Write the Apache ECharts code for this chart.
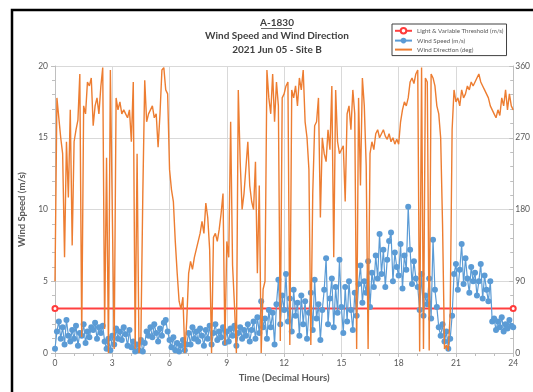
<!DOCTYPE html>
<html><head><meta charset="utf-8">
<script src="https://cdn.jsdelivr.net/npm/echarts@6/dist/echarts.min.js"></script>
<style>html,body{margin:0;padding:0;background:#fff}#c{width:533px;height:392px}</style>
</head><body><div id="c"></div>
<script>
const titleLines = ["A-1830", "Wind Speed and Wind Direction", "2021 Jun 05 - Site B"];
const seriesNames = ["Light & Variable Threshold (m/s)", "Wind Speed (m/s)", "Wind Direction (deg)"];
const xAxisName = "Time (Decimal Hours)";
const yAxisName = "Wind Speed (m/s)";
const timeStepHours = 0.1;
const thresholdTimes = [0, 24];
const thresholdValue = 3.1;
const windSpeed = [
  0.3,1.5,2.2,1.0,1.8,0.6,2.3,1.2,0.8,1.6,
  1.0,1.9,0.5,1.4,1.2,2.0,0.7,1.5,1.1,1.8,
  1.6,2.1,1.0,1.8,1.4,1.9,0.8,0.3,1.0,0.2,
  1.2,0.6,1.7,1.0,1.5,0.9,1.8,1.3,0.5,1.6,
  0.4,0.8,0.1,0.6,0.2,0.9,0.1,0.7,1.5,1.2,
  1.8,1.1,2.0,1.4,0.8,1.7,1.2,2.1,2.3,1.5,
  0.9,0.4,1.1,0.2,0.7,0.1,0.5,0.9,0.2,0.6,
  1.4,0.6,1.8,1.0,1.5,0.8,1.7,1.2,0.5,1.6,
  1.0,1.9,0.6,1.4,2.0,0.9,1.5,1.1,1.8,0.7,
  1.5,0.8,1.7,1.2,1.9,0.5,1.4,1.8,1.0,1.6,
  1.2,2.0,0.8,1.6,2.2,1.0,2.5,1.4,3.6,1.8,
  2.4,1.0,3.0,1.8,2.8,0.6,3.4,5.1,2.0,4.0,
  3.0,5.5,2.2,3.8,1.5,4.4,2.6,3.5,1.2,4.0,
  2.0,3.6,1.0,2.8,4.2,1.6,5.1,2.4,3.4,0.9,
  3.0,4.4,6.6,2.0,3.8,5.2,1.8,4.6,2.8,6.5,
  3.2,1.4,4.6,2.2,5.0,3.0,1.6,4.2,2.6,4.8,
  6.1,3.5,5.0,4.2,6.4,3.2,5.6,4.6,6.8,5.2,
  8.3,5.5,7.2,4.6,6.5,7.8,8.4,5.0,7.0,6.0,
  5.4,7.6,4.5,6.8,5.8,10.2,7.2,4.8,6.4,5.2,
  4.6,3.0,5.5,2.6,4.0,3.4,5.2,2.4,7.9,4.4,
  3.2,1.8,1.2,2.0,0.8,1.5,0.3,1.0,2.6,5.5,
  6.2,4.4,5.8,7.6,4.8,6.6,5.2,4.2,6.0,5.0,
  5.6,4.0,5.0,6.2,3.8,5.4,4.4,3.6,5.0,2.2,
  2.4,1.6,2.2,1.8,2.5,1.5,2.0,1.7,2.3,1.9,
  1.8
];
const windDirection = [
  90,320,295,270,250,120,265,195,305,135,
  265,280,292,350,20,310,300,340,335,345,
  285,310,320,300,334,358,30,245,0,355,
  355,5,320,305,315,300,305,300,295,305,
  265,340,5,250,0,20,200,342,290,300,
  305,310,295,300,258,300,355,358,330,325,
  230,205,190,140,100,65,55,70,0,40,
  100,115,105,120,130,140,150,165,150,188,
  170,130,0,145,150,140,155,175,200,10,
  140,120,290,110,60,0,330,240,180,200,
  200,265,210,190,180,240,100,210,0,80,
  90,355,320,300,350,290,340,310,15,320,
  325,335,340,10,330,320,335,310,345,330,
  355,290,270,230,10,200,285,290,320,170,
  270,250,240,280,255,335,120,330,265,250,
  255,260,190,300,310,280,330,300,5,320,
  210,345,310,235,5,250,265,255,275,280,
  270,275,280,272,268,275,265,270,262,268,
  262,290,305,315,310,320,340,345,338,350,
  355,2,358,5,345,340,3,350,345,335,
  310,300,270,160,5,10,3,50,280,330,
  315,320,310,330,320,325,335,330,340,335,
  340,345,350,340,335,330,325,320,310,305,
  300,295,305,298,320,310,330,305,325,310,
  305
];

const toPairs = arr => arr.map((v, i) => [+(i * timeStepHours).toFixed(2), v]);
const thresholdData = thresholdTimes.map(t => [t, thresholdValue]);

const FONT = 'Lato, "Open Sans", sans-serif';
const gridC = '#d9d9d9', axisC = '#bfbfbf', labelC = '#595959', titleC = '#404040';

const chart = echarts.init(document.getElementById('c'), null, {renderer: 'canvas'});
chart.setOption({
  animation: false,
  backgroundColor: '#fff',
  textStyle: {fontFamily: FONT},
  grid: {left: 55, right: 17, top: 66, bottom: 39, containLabel: false},
  graphic: [
    {type: 'polyline', silent: true, shape: {points: [[12, 392], [12, 10], [533, 10]]},
      style: {stroke: '#000', lineWidth: 2.5, fill: null}},
    {type: 'text', x: 277, y: 23, style: {text: titleLines[0], font: 'bold 10px ' + FONT, fill: titleC, textAlign: 'center', textVerticalAlign: 'middle', align: 'center', verticalAlign: 'middle'}},
    {type: 'line', shape: {x1: 261, y1: 28.5, x2: 292, y2: 28.5}, style: {stroke: titleC, lineWidth: 0.8}},
    {type: 'text', x: 277, y: 36, style: {text: titleLines[1], font: 'bold 10px ' + FONT, fill: titleC, textAlign: 'center', textVerticalAlign: 'middle', align: 'center', verticalAlign: 'middle'}},
    {type: 'text', x: 277, y: 49.5, style: {text: titleLines[2], font: 'bold 10px ' + FONT, fill: titleC, textAlign: 'center', textVerticalAlign: 'middle', align: 'center', verticalAlign: 'middle'}}
  ],
  legend: {
    orient: 'vertical', left: 392, top: 24,
    padding: [3, 3, 3, 2], itemGap: 3, itemWidth: 17, itemHeight: 7,
    borderColor: '#404040', borderWidth: 1, backgroundColor: '#fff',
    textStyle: {fontSize: 6.2, color: labelC, fontFamily: FONT},
    data: [
      {name: seriesNames[0]},
      {name: seriesNames[1]},
      {name: seriesNames[2], itemStyle: {opacity: 0}}
    ]
  },
  xAxis: {
    type: 'value', min: 0, max: 24, interval: 3,
    name: xAxisName, nameLocation: 'middle', nameGap: 20,
    nameTextStyle: {fontSize: 9.5, fontWeight: 'bold', color: labelC, fontFamily: FONT},
    axisLine: {show: true, lineStyle: {color: axisC}},
    axisTick: {show: true, length: 4, lineStyle: {color: axisC}},
    minorTick: {show: true, splitNumber: 3, length: 3, lineStyle: {color: axisC}},
    splitLine: {show: true, lineStyle: {color: gridC}},
    axisLabel: {fontSize: 8.5, color: labelC, margin: 6}
  },
  yAxis: [
    {
      type: 'value', min: 0, max: 20, interval: 5, position: 'left',
      name: yAxisName, nameLocation: 'middle', nameGap: 21, nameRotate: 90,
      nameTextStyle: {fontSize: 9.5, fontWeight: 'bold', color: labelC, fontFamily: FONT},
      axisLine: {show: true, lineStyle: {color: axisC}},
      axisTick: {show: true, length: 4, lineStyle: {color: axisC}},
      minorTick: {show: true, splitNumber: 5, length: 3, lineStyle: {color: axisC}},
      splitLine: {show: true, lineStyle: {color: gridC}},
      axisLabel: {fontSize: 8.5, color: labelC, margin: 7}
    },
    {
      type: 'value', min: 0, max: 360, interval: 90, position: 'right',
      axisLine: {show: true, lineStyle: {color: axisC}},
      axisTick: {show: true, inside: true, length: 4, lineStyle: {color: axisC}},
      minorTick: {show: true, splitNumber: 5, length: 3, lineStyle: {color: axisC}},
      splitLine: {show: false},
      axisLabel: {fontSize: 8.5, color: labelC, margin: 2}
    }
  ],
  series: [
    {
      name: seriesNames[0], type: 'line', yAxisIndex: 0, data: thresholdData,
      symbol: 'emptyCircle', symbolSize: 5,
      itemStyle: {color: '#ff3b3b', borderWidth: 1.2},
      lineStyle: {color: '#ff4040', width: 2}, z: 2
    },
    {
      name: seriesNames[1], type: 'line', yAxisIndex: 0, data: toPairs(windSpeed),
      symbol: 'circle', symbolSize: 6, showAllSymbol: true,
      itemStyle: {color: '#5b9bd5'},
      lineStyle: {color: '#5b9bd5', width: 1.2}, z: 3
    },
    {
      name: seriesNames[2], type: 'line', yAxisIndex: 1, data: toPairs(windDirection),
      symbol: 'none',
      itemStyle: {color: '#ed7d31'},
      lineStyle: {color: '#ed7d31', width: 1.4}, z: 4
    }
  ]
});
</script>
</body></html>
